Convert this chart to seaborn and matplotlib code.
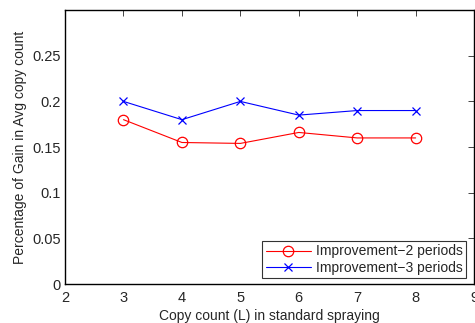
import matplotlib
matplotlib.use("Agg")
import matplotlib.pyplot as plt
import seaborn as sns

copy_count = [3, 4, 5, 6, 7, 8]
improve_2 = [0.180, 0.155, 0.154, 0.166, 0.160, 0.160]
improve_3 = [0.200, 0.180, 0.200, 0.185, 0.190, 0.190]
labels = ["Improvement\u22122 periods", "Improvement\u22123 periods"]
x_ticks = [2, 3, 4, 5, 6, 7, 8, 9]
y_ticks = [0, 0.05, 0.1, 0.15, 0.2, 0.25]

sns.set_style("white")
plt.rcParams["font.family"] = ["Liberation Sans", "DejaVu Sans"]

fig = plt.figure(figsize=(4.75, 3.23), dpi=100)
ax = fig.add_axes([0.137, 0.1207, 0.861, 0.848])

sns.lineplot(x=copy_count, y=improve_2, color="#ff0000", marker="o",
             markersize=7.5, markerfacecolor="none", markeredgecolor="#ff0000",
             markeredgewidth=0.9, linewidth=0.8, label=labels[0], ax=ax)
sns.lineplot(x=copy_count, y=improve_3, color="#0000ff", marker="x",
             markersize=5.5, markeredgecolor="#0000ff",
             markeredgewidth=0.9, linewidth=0.8, label=labels[1], ax=ax)

ax.set_xlim(2, 9)
ax.set_ylim(0, 0.3)
ax.set_xticks(x_ticks)
ax.set_yticks(y_ticks)
ax.set_yticklabels(["0", "0.05", "0.1", "0.15", "0.2", "0.25"])
ax.tick_params(direction="in", top=True, right=True, labelsize=10.5, length=4, width=0.6, pad=3)
ax.tick_params(axis="x", pad=5)
for s in ax.spines.values():
    s.set_linewidth(1.0)
    s.set_color("black")
ax.set_xlabel("Copy count (L) in standard spraying", fontsize=10, labelpad=3)
ax.set_ylabel("Percentage of Gain in Avg copy count", fontsize=10, labelpad=4)

leg = ax.legend(loc="lower right", fontsize=10, frameon=True, fancybox=False,
                edgecolor="black", handlelength=3.3, borderpad=0.25,
                labelspacing=0.15, handletextpad=0.3, borderaxespad=0,
                bbox_to_anchor=(0.98, 0.022))
leg.get_frame().set_linewidth(0.8)

fig.savefig("out.png", dpi=100)
